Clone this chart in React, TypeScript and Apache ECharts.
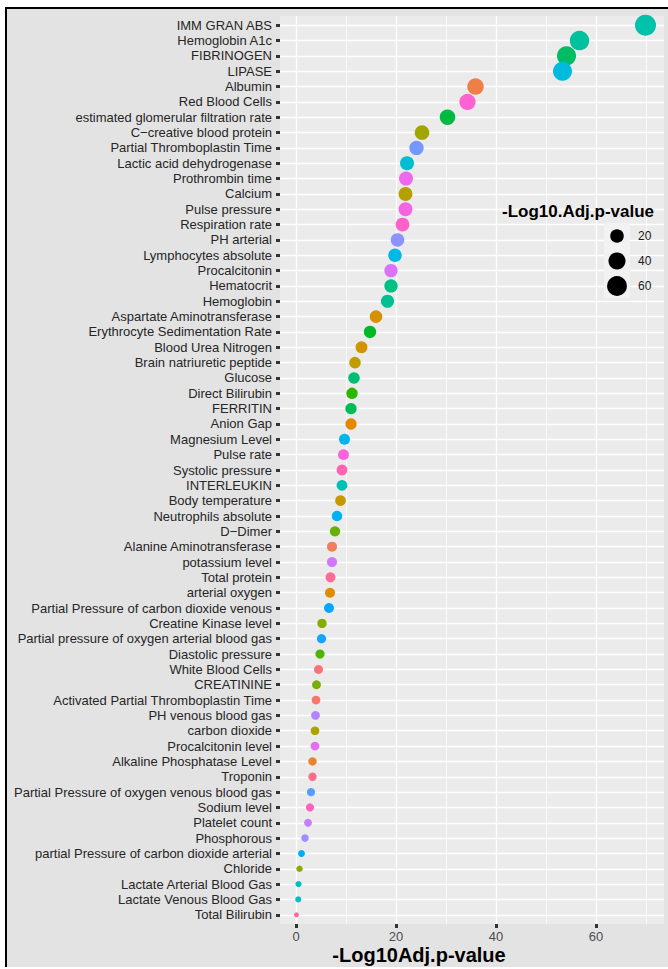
import React, { useEffect, useRef } from "react";
import * as echarts from "echarts";

// Categories, top to bottom
const categories: string[] = [
  "IMM GRAN ABS",
  "Hemoglobin A1c",
  "FIBRINOGEN",
  "LIPASE",
  "Albumin",
  "Red Blood Cells",
  "estimated glomerular filtration rate",
  "C\u2212creative blood protein",
  "Partial Thromboplastin Time",
  "Lactic acid dehydrogenase",
  "Prothrombin time",
  "Calcium",
  "Pulse pressure",
  "Respiration rate",
  "PH arterial",
  "Lymphocytes absolute",
  "Procalcitonin",
  "Hematocrit",
  "Hemoglobin",
  "Aspartate Aminotransferase",
  "Erythrocyte Sedimentation Rate",
  "Blood Urea Nitrogen",
  "Brain natriuretic peptide",
  "Glucose",
  "Direct Bilirubin",
  "FERRITIN",
  "Anion Gap",
  "Magnesium Level",
  "Pulse rate",
  "Systolic pressure",
  "INTERLEUKIN",
  "Body temperature",
  "Neutrophils absolute",
  "D\u2212Dimer",
  "Alanine Aminotransferase",
  "potassium level",
  "Total protein",
  "arterial oxygen",
  "Partial Pressure of carbon dioxide venous",
  "Creatine Kinase level",
  "Partial pressure of oxygen arterial blood gas",
  "Diastolic pressure",
  "White Blood Cells",
  "CREATININE",
  "Activated Partial Thromboplastin Time",
  "PH venous blood gas",
  "carbon dioxide",
  "Procalcitonin level",
  "Alkaline Phosphatase Level",
  "Troponin",
  "Partial Pressure of oxygen venous blood gas",
  "Sodium level",
  "Platelet count",
  "Phosphorous",
  "partial Pressure of carbon dioxide arterial",
  "Chloride",
  "Lactate Arterial Blood Gas",
  "Lactate Venous Blood Gas",
  "Total Bilirubin",
];

// -Log10 adjusted p-values, same order
const values: number[] = [
  69.9, 56.7, 54.1, 53.3, 35.9, 34.3, 30.3, 25.2, 24.1, 22.2,
  22.0, 21.9, 21.9, 21.3, 20.3, 19.8, 19.0, 19.0, 18.3, 16.0,
  14.8, 13.1, 11.8, 11.6, 11.2, 11.0, 11.0, 9.7, 9.5, 9.2,
  9.2, 8.9, 8.2, 7.8, 7.2, 7.2, 6.9, 6.8, 6.6, 5.2,
  5.1, 4.8, 4.5, 4.1, 4.0, 3.9, 3.8, 3.8, 3.3, 3.3,
  3.0, 2.8, 2.4, 1.8, 1.1, 0.7, 0.5, 0.45, 0.1,
];

// factor levels (alphabetical) used for the hue palette
const colorLevels: string[] = [
  "Activated Partial Thromboplastin Time",
  "Alanine Aminotransferase",
  "Albumin",
  "Alkaline Phosphatase Level",
  "Anion Gap",
  "arterial oxygen",
  "Aspartate Aminotransferase",
  "Blood Urea Nitrogen",
  "Body temperature",
  "Brain natriuretic peptide",
  "Calcium",
  "carbon dioxide",
  "C\u2212creative blood protein",
  "Chloride",
  "Creatine Kinase level",
  "CREATININE",
  "D\u2212Dimer",
  "Diastolic pressure",
  "Direct Bilirubin",
  "Erythrocyte Sedimentation Rate",
  "estimated glomerular filtration rate",
  "FERRITIN",
  "FIBRINOGEN",
  "Glucose",
  "Hematocrit",
  "Hemoglobin",
  "Hemoglobin A1c",
  "IMM GRAN ABS",
  "INTERLEUKIN",
  "Lactate Arterial Blood Gas",
  "Lactate Venous Blood Gas",
  "Lactic acid dehydrogenase",
  "LIPASE",
  "Lymphocytes absolute",
  "Magnesium Level",
  "Neutrophils absolute",
  "partial Pressure of carbon dioxide arterial",
  "Partial Pressure of carbon dioxide venous",
  "Partial pressure of oxygen arterial blood gas",
  "Partial Pressure of oxygen venous blood gas",
  "Partial Thromboplastin Time",
  "PH arterial",
  "Phosphorous",
  "PH venous blood gas",
  "Platelet count",
  "potassium level",
  "Procalcitonin",
  "Procalcitonin level",
  "Prothrombin time",
  "Pulse pressure",
  "Pulse rate",
  "Red Blood Cells",
  "Respiration rate",
  "Sodium level",
  "Systolic pressure",
  "Total Bilirubin",
  "Total protein",
  "Troponin",
  "White Blood Cells",
];

const xTicks: number[] = [0, 20, 40, 60];
const xMinor: number[] = [10, 30, 50, 70];
const legendValues: number[] = [20, 40, 60];

function hcl(h: number, c: number, l: number): string {
  const hr = (h * Math.PI) / 180;
  const U = c * Math.cos(hr);
  const V = c * Math.sin(hr);
  const Xn = 95.047, Yn = 100, Zn = 108.883;
  const den = Xn + 15 * Yn + 3 * Zn;
  const un = (4 * Xn) / den;
  const vn = (9 * Yn) / den;
  const Y = l > 8 ? Yn * Math.pow((l + 16) / 116, 3) : (Yn * l) / 903.3;
  const u = U / (13 * l) + un;
  const v = V / (13 * l) + vn;
  const X = (9 * Y * u) / (4 * v);
  const Z = -X / 3 - 5 * Y + (3 * Y) / v;
  const x = X / 100, y = Y / 100, z = Z / 100;
  const lin = [
    3.2404542 * x - 1.5371385 * y - 0.4985314 * z,
    -0.969266 * x + 1.8760108 * y + 0.041556 * z,
    0.0556434 * x - 0.2040259 * y + 1.0572252 * z,
  ];
  const g = lin.map((t) => {
    const s = t <= 0.0031308 ? 12.92 * t : 1.055 * Math.pow(t, 1 / 2.4) - 0.055;
    const k = Math.round(Math.min(1, Math.max(0, s)) * 255);
    return k.toString(16).padStart(2, "0");
  });
  return "#" + g.join("");
}

function colorFor(name: string): string {
  const n = colorLevels.length;
  const i = colorLevels.indexOf(name);
  return hcl(15 + (i * 360) / n, 100, 65);
}

const vMin = Math.min(...values);
const vMax = Math.max(...values);
function sizeFn(v: number): number {
  const r = Math.max(0, Math.min(1, (v - vMin) / (vMax - vMin)));
  return 5 + 16 * Math.sqrt(r);
}

const FONT = "'Liberation Sans', Arial, Helvetica, sans-serif";

export default function App() {
  const ref = useRef<HTMLDivElement>(null);
  useEffect(() => {
    if (!ref.current) return;
    const chart = echarts.init(ref.current, undefined, { renderer: "svg" });
    const idx = categories.map((_, i) => i);

    const gridData: any[] = [
      ...idx.map((i) => ({ yAxis: i, lineStyle: { width: 1.3 } })),
      ...xTicks.map((t) => ({ xAxis: t, lineStyle: { width: 1.3 } })),
      ...xMinor.map((t) => ({ xAxis: t, lineStyle: { width: 0.7 } })),
    ];

    const legendGraphics: any[] = [
      {
        type: "text",
        x: 578,
        y: 211,
        z: 20,
        style: {
          text: "-Log10.Adj.p-value",
          fill: "#000",
          fontSize: 17,
          fontWeight: "bold",
          fontFamily: FONT,
          align: "center",
          verticalAlign: "middle",
        },
      },
      {
        type: "rect",
        z: 20,
        shape: { x: 604, y: 223, width: 26, height: 75 },
        style: { fill: "#F2F2F2" },
      },
      ...legendValues.map((v, k) => ({
        type: "circle",
        z: 21,
        shape: { cx: 617, cy: 236 + k * 25, r: sizeFn(v) / 2 },
        style: { fill: "#000" },
      })),
      ...legendValues.map((v, k) => ({
        type: "text",
        z: 21,
        x: 638,
        y: 236 + k * 25,
        style: {
          text: String(v),
          fill: "#1A1A1A",
          fontSize: 12,
          fontFamily: FONT,
          align: "left",
          verticalAlign: "middle",
        },
      })),
      {
        type: "text",
        x: 419,
        y: 955,
        z: 20,
        style: {
          text: "-Log10Adj.p-value",
          fill: "#000",
          fontSize: 20,
          fontWeight: "bold",
          fontFamily: FONT,
          align: "center",
          verticalAlign: "middle",
        },
      },
    ];

    chart.setOption({
      animation: false,
      backgroundColor: "transparent",
      textStyle: { fontFamily: FONT },
      grid: {
        left: 280,
        top: 16,
        width: 384,
        height: 908,
        show: true,
        backgroundColor: "#EBEBEB",
        borderWidth: 0,
        containLabel: false,
      },
      xAxis: {
        type: "value",
        position: "bottom",
        min: -3.2,
        max: 73.6,
        splitLine: { show: false },
        axisLine: { show: false, onZero: false },
        axisTick: {
          show: true,
          customValues: xTicks,
          length: 4,
          lineStyle: { color: "#333333", width: 3 },
        },
        axisLabel: {
          customValues: xTicks,
          color: "#4D4D4D",
          fontSize: 13,
          margin: 6,
          fontFamily: FONT,
        },
      },
      yAxis: {
        type: "value",
        position: "left",
        inverse: true,
        min: -0.6,
        max: categories.length - 0.4,
        splitLine: { show: false },
        axisLine: { show: false, onZero: false },
        axisTick: {
          show: true,
          customValues: idx,
          length: 4,
          lineStyle: { color: "#333333", width: 3 },
        },
        axisLabel: {
          customValues: idx,
          formatter: (v: number) => categories[Math.round(v)] ?? "",
          color: "#262626",
          fontSize: 13,
          margin: 8,
          fontFamily: FONT,
        },
      },
      series: [
        {
          type: "scatter",
          data: [],
          z: 1,
          silent: true,
          markLine: {
            silent: true,
            z: 1,
            symbol: ["none", "none"],
            label: { show: false },
            emphasis: { disabled: true },
            lineStyle: { color: "#FFFFFF", type: "solid" },
            data: gridData,
          },
        },
        {
          type: "scatter",
          z: 3,
          data: values.map((v, i) => ({
            value: [v, i],
            itemStyle: { color: colorFor(categories[i]), opacity: 1 },
          })),
          symbol: "circle",
          symbolSize: (val: number[]) => sizeFn(val[0]),
        },
      ],
      graphic: legendGraphics,
    });
    return () => chart.dispose();
  }, []);

  return (
    <div
      style={{
        position: "fixed",
        left: 0,
        top: 0,
        width: 668,
        height: 969,
        background: "#FFFFFF",
        overflow: "hidden",
      }}
    >
      <div
        style={{
          position: "absolute",
          left: 5,
          top: 7,
          width: 670,
          height: 960,
          boxSizing: "border-box",
          background: "#E3E3E3",
          borderLeft: "2px solid #000",
          borderTop: "2px solid #000",
        }}
      />
      <div
        ref={ref}
        style={{ position: "absolute", left: 0, top: 0, width: 668, height: 969 }}
      />
    </div>
  );
}
